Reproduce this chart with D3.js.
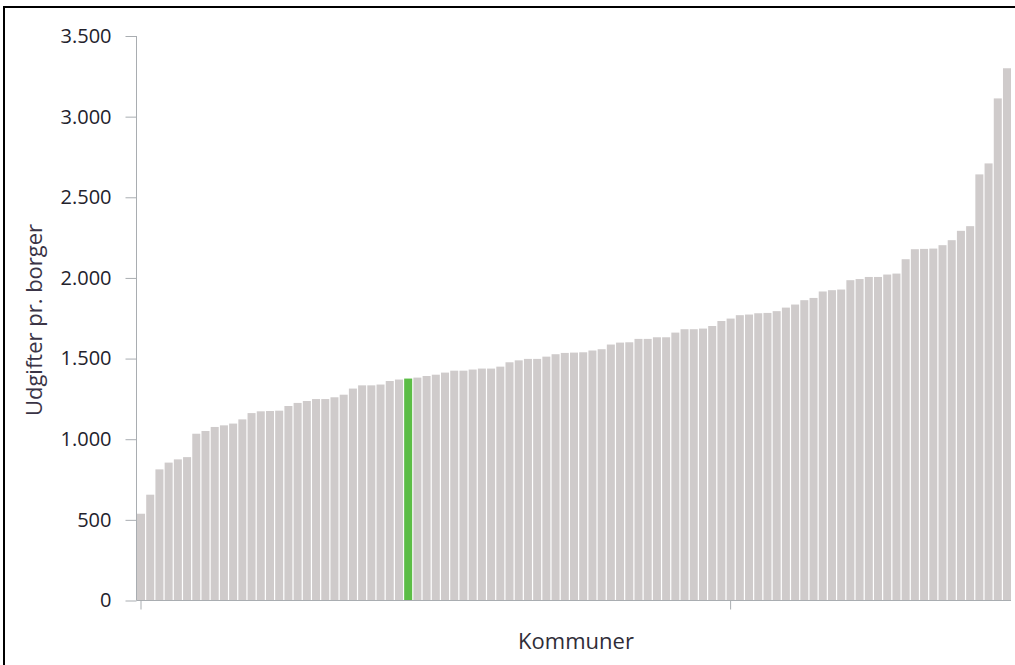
<!DOCTYPE html>
<html>
<head>
<meta charset="utf-8">
<script src="https://cdn.jsdelivr.net/npm/d3@7"></script>
<style>
  body { margin: 0; background: #fff; }
  svg { display: block; }
</style>
</head>
<body>
<div id="my_dataviz"></div>
<script>
// Udgifter pr. borger, kommunerne sorteret stigende
var values = [538, 656, 813, 855, 875, 889, 1034, 1051, 1076, 1086, 1097, 1123, 1162, 1173, 1175, 1177,
    1206, 1225, 1237, 1249, 1249, 1260, 1276, 1314, 1334, 1334, 1339, 1361, 1370, 1376, 1382, 1392,
    1400, 1413, 1425, 1425, 1432, 1438, 1438, 1450, 1477, 1489, 1498, 1498, 1512, 1527, 1535, 1537,
    1539, 1550, 1558, 1587, 1599, 1601, 1622, 1622, 1632, 1632, 1661, 1682, 1682, 1686, 1702, 1733,
    1748, 1769, 1773, 1781, 1783, 1794, 1816, 1835, 1862, 1876, 1916, 1924, 1928, 1986, 1993,
    2006, 2006, 2021, 2027, 2116, 2178, 2180, 2182, 2203, 2234, 2292, 2321, 2642, 2710, 3113, 3300];
var categories = values.map(function(_d, i){ return i; });   // kommune nr. (navne ikke vist)
var highlight = 29;                                          // den fremhævede kommune
var yTicks = [0, 500, 1000, 1500, 2000, 2500, 3000, 3500];
var xTicks = [0, 64];
var yTitle = "Udgifter pr. borger";
var xTitle = "Kommuner";

var width = 1015, height = 665;
var da = d3.formatLocale({decimal: ",", thousands: ".", grouping: [3], currency: ["", " kr."]});
var fmt = da.format(",d");

var svg = d3.select("#my_dataviz").append("svg")
    .attr("width", width).attr("height", height);

// ramme
svg.append("rect").attr("x", 4).attr("y", 7)
    .attr("width", 1100).attr("height", 700)
    .attr("fill", "none").attr("stroke", "#000").attr("stroke-width", 2);

var x = d3.scaleBand().domain(categories).range([137, 1011]).paddingInner(0.13).paddingOuter(0);
var y = d3.scaleLinear().domain([0, 3500]).range([600.5, 36]);

// søjler
svg.append("g").selectAll("rect").data(values).enter().append("rect")
    .attr("x", function(_d, i){ return x(i); })
    .attr("y", function(d){ return y(d); })
    .attr("width", x.bandwidth())
    .attr("height", function(d){ return y(0) - y(d); })
    .attr("fill", function(_d, i){ return i === highlight ? "#5cbd46" : "#cfcbcb"; });

// y-akse
var yAxis = svg.append("g").attr("transform", "translate(136.5,0)")
    .call(d3.axisLeft(y).tickValues(yTicks).tickFormat(fmt).tickSize(11).tickPadding(14));
yAxis.select(".domain").attr("stroke", "#a9adb1").attr("d", "M0," + y(3500) + "V" + y(0));
yAxis.selectAll(".tick line").attr("stroke", "#a9adb1");
yAxis.selectAll(".tick text").attr("fill", "#23222c")
    .style("font-family", "'Open Sans', sans-serif").style("font-size", "20px");

// x-akse
var xAxis = svg.append("g").attr("transform", "translate(0," + y(0) + ")")
    .call(d3.axisBottom(x).tickValues(xTicks).tickFormat("").tickSize(9).tickSizeOuter(0));
xAxis.select(".domain").attr("stroke", "#a9adb1").attr("d", "M136.5,0H1011");
xAxis.selectAll(".tick line").attr("stroke", "#a9adb1");

// aksetitler
svg.append("text").attr("x", 576).attr("y", 649).attr("text-anchor", "middle")
    .attr("fill", "#2f2d38").style("font-family", "'Open Sans', sans-serif").style("font-size", "22px")
    .text(xTitle);
svg.append("text").attr("transform", "translate(42,320) rotate(-90)").attr("text-anchor", "middle")
    .attr("fill", "#3a3446").style("font-family", "'Open Sans', sans-serif").style("font-size", "22px")
    .text(yTitle);
</script>
</body>
</html>
